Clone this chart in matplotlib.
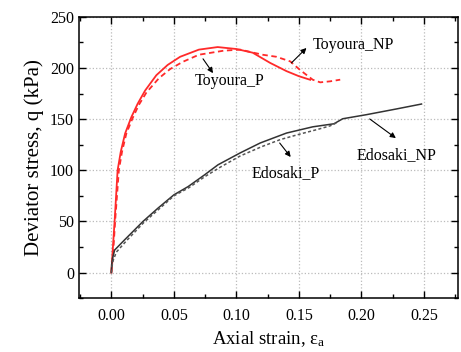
# Deviator stress vs axial strain for Toyoura and Edosaki sands

import matplotlib
matplotlib.use("Agg")
import matplotlib.pyplot as plt
from matplotlib.ticker import MultipleLocator

plt.rcParams["font.family"] = ["Liberation Serif", "DejaVu Serif"]
plt.rcParams["mathtext.fontset"] = "stix"

toyoura_p_x = [0, 0.001, 0.0026, 0.005, 0.0075, 0.011, 0.016, 0.021, 0.027, 0.036,
               0.045, 0.055, 0.07, 0.085, 0.10, 0.113, 0.127, 0.14, 0.15, 0.159]
toyoura_p_y = [0, 20, 50, 100, 118, 136, 152, 165, 178, 193,
               203, 211, 218, 220.5, 218.6, 215, 205, 197, 192, 188.5]

toyoura_np_x = [0, 0.0015, 0.003, 0.006, 0.0085, 0.012, 0.017, 0.022, 0.028, 0.038,
                0.047, 0.057, 0.07, 0.09, 0.103, 0.121, 0.132, 0.143, 0.151, 0.161,
                0.167, 0.175, 0.183]
toyoura_np_y = [0, 20, 50, 100, 118, 136, 151, 164, 176, 190,
                199, 206, 213, 217, 218, 213, 211, 206.5, 198, 188.6,
                186, 187, 188.6]

edosaki_np_x = [0, 0.0003, 0.001, 0.0026, 0.0106, 0.0253, 0.0373, 0.05, 0.0613,
                0.0746, 0.0853, 0.103, 0.119, 0.14, 0.151, 0.161, 0.178, 0.185,
                0.204, 0.228, 0.248]
edosaki_np_y = [0, 8, 14, 22, 32, 50, 63, 76, 84,
                95.6, 105.4, 117, 126.7, 136.4, 139.6, 142.5, 145.5, 150.4,
                154.4, 160, 164.8]

edosaki_p_x = [0, 0.0005, 0.0015, 0.004, 0.012, 0.026, 0.038, 0.05, 0.062,
               0.075, 0.087, 0.103, 0.12, 0.135, 0.151, 0.165, 0.175, 0.181]
edosaki_p_y = [0, 6, 12, 20, 31, 49, 62, 75, 83,
               94, 103, 114, 123, 130, 135.5, 140, 143.5, 147]

# label text, text position, arrow tail, arrow head
labels = [
    ("Toyoura_P", (0.067, 187), (0.0733, 209), (0.0813, 195)),
    ("Toyoura_NP", (0.161, 223), (0.144, 205), (0.156, 219.6)),
    ("Edosaki_P", (0.112, 97), (0.1346, 126.7), (0.1434, 113)),
    ("Edosaki_NP", (0.196, 115), (0.2066, 150.2), (0.2275, 131.5)),
]

fig = plt.figure(figsize=(4.61, 3.52), dpi=100)
ax = fig.add_axes([0.171, 0.153, 0.822, 0.799])

ax.plot(toyoura_p_x, toyoura_p_y, color="#ff2a2a", linestyle="-", linewidth=1.3)
ax.plot(toyoura_np_x, toyoura_np_y, color="#ff2a2a", linestyle="--", linewidth=1.3,
        dashes=(3, 2))
ax.plot(edosaki_np_x, edosaki_np_y, color="#333333", linestyle="-", linewidth=1.1)
ax.plot(edosaki_p_x, edosaki_p_y, color="#555555", linestyle="--", linewidth=1.1,
        dashes=(2, 1.5))

for text, pos, tail, head in labels:
    ax.annotate("", xy=head, xytext=tail,
                arrowprops=dict(arrowstyle="-|>", color="black", lw=0.8,
                                mutation_scale=8, shrinkA=0, shrinkB=0))
    ax.text(pos[0], pos[1], text, fontsize=11.5, va="center", ha="left")

ax.set_xlim(-0.026, 0.277)
ax.set_ylim(-25, 250)
ax.xaxis.set_major_locator(MultipleLocator(0.05))
ax.xaxis.set_minor_locator(MultipleLocator(0.025))
ax.yaxis.set_major_locator(MultipleLocator(50))
ax.yaxis.set_minor_locator(MultipleLocator(25))
ax.set_xticks([0, 0.05, 0.10, 0.15, 0.20, 0.25])
ax.set_xticklabels(["0.00", "0.05", "0.10", "0.15", "0.20", "0.25"])

ax.tick_params(which="both", direction="in", top=True, right=True,
               labelsize=11.5, width=1.0)
ax.tick_params(which="major", length=5)
ax.tick_params(which="minor", length=3)
ax.tick_params(axis="x", which="major", pad=7)
for s in ax.spines.values():
    s.set_linewidth(1.1)

ax.grid(True, which="major", linestyle=":", color="#bbbbbb", linewidth=0.9)
ax.set_axisbelow(True)

ax.set_xlabel(r"Axial strain, ε$_\mathregular{a}$", fontsize=13.5, labelpad=4)
ax.set_ylabel("Deviator stress, q (kPa)", fontsize=15, labelpad=4)

fig.savefig("out.png", dpi=100)
